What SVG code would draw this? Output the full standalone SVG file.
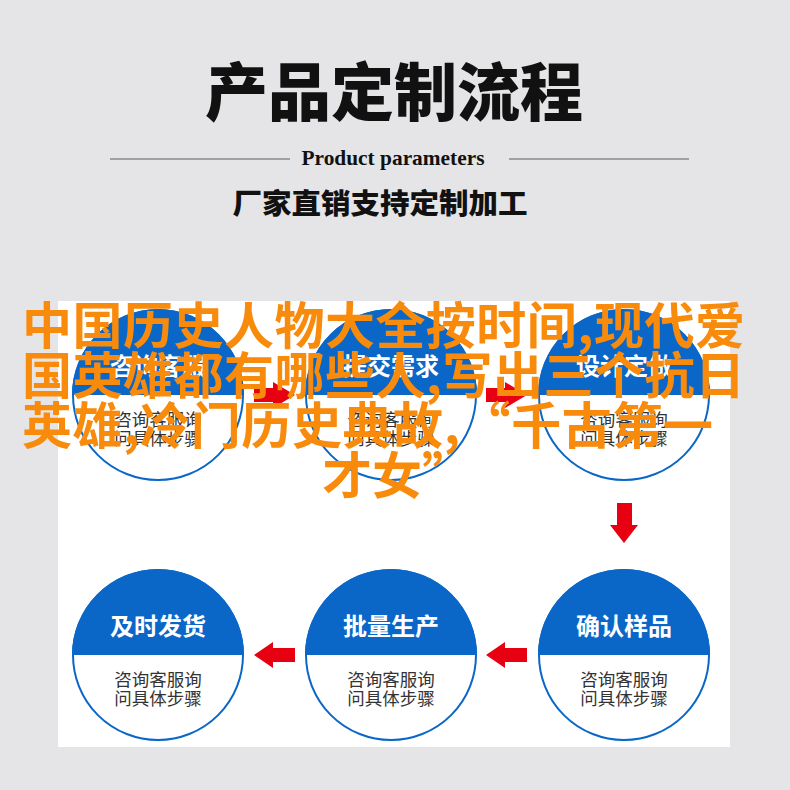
<svg xmlns="http://www.w3.org/2000/svg" width="790" height="790" viewBox="0 0 790 790">
<style>
.ttl{font-family:"Noto Sans CJK SC",sans-serif;font-weight:900;fill:#111}
.circ{fill:#fff;stroke:#0a67c8;stroke-width:2}
.half{fill:#0a67c8}
.head{font-family:"Noto Sans CJK SC",sans-serif;font-weight:700;font-size:24px;fill:#fff;text-anchor:middle}
.body{font-family:"Noto Sans CJK SC",sans-serif;font-weight:400;font-size:17.5px;fill:#333;text-anchor:middle}
.arr{fill:#e60012}
.ov{font-family:"Noto Sans CJK SC",sans-serif;font-weight:700;font-size:50px;fill:#f98b0c}
</style>
<rect width="790" height="790" fill="#e5e5e7"/>
<g id="header">
<text class="ttl" x="394" y="115" font-size="63" text-anchor="middle" textLength="378" lengthAdjust="spacingAndGlyphs">产品定制流程</text>
<line x1="110" y1="159" x2="290" y2="159" stroke="#8a8a8a" stroke-width="1.5"/>
<line x1="509" y1="159" x2="689" y2="159" stroke="#8a8a8a" stroke-width="1.5"/>
<text x="393" y="165" font-family="Liberation Serif,serif" font-weight="700" font-size="21" fill="#111" text-anchor="middle" textLength="183" lengthAdjust="spacingAndGlyphs">Product parameters</text>
<text class="ttl" x="380" y="214" font-size="28" text-anchor="middle" textLength="295" lengthAdjust="spacingAndGlyphs">厂家直销支持定制加工</text>
</g>
<rect id="panel" x="58" y="301" width="672" height="446" fill="#fff"/>
<defs>
<clipPath id="c1"><rect x="0" y="300" width="790" height="95"/></clipPath>
<clipPath id="c2"><rect x="0" y="560" width="790" height="95"/></clipPath>
</defs>
<g id="node1">
<circle class="circ" cx="158" cy="395" r="85"/>
<circle class="half" cx="158" cy="395" r="86" clip-path="url(#c1)"/>
<text class="head" x="158" y="375">咨询客服</text>
<text class="body" x="158" y="426">咨询客服询</text>
<text class="body" x="158" y="445">问具体步骤</text>
</g>
<g id="node2">
<circle class="circ" cx="391" cy="395" r="85"/>
<circle class="half" cx="391" cy="395" r="86" clip-path="url(#c1)"/>
<text class="head" x="391" y="375">提交需求</text>
<text class="body" x="391" y="426">咨询客服询</text>
<text class="body" x="391" y="445">问具体步骤</text>
</g>
<g id="node3">
<circle class="circ" cx="624" cy="395" r="85"/>
<circle class="half" cx="624" cy="395" r="86" clip-path="url(#c1)"/>
<text class="head" x="624" y="375">设计定做</text>
<text class="body" x="624" y="426">咨询客服询</text>
<text class="body" x="624" y="445">问具体步骤</text>
</g>
<g id="node4">
<circle class="circ" cx="624" cy="655" r="85"/>
<circle class="half" cx="624" cy="655" r="86" clip-path="url(#c2)"/>
<text class="head" x="624" y="635">确认样品</text>
<text class="body" x="624" y="686">咨询客服询</text>
<text class="body" x="624" y="705">问具体步骤</text>
</g>
<g id="node5">
<circle class="circ" cx="391" cy="655" r="85"/>
<circle class="half" cx="391" cy="655" r="86" clip-path="url(#c2)"/>
<text class="head" x="391" y="635">批量生产</text>
<text class="body" x="391" y="686">咨询客服询</text>
<text class="body" x="391" y="705">问具体步骤</text>
</g>
<g id="node6">
<circle class="circ" cx="158" cy="655" r="85"/>
<circle class="half" cx="158" cy="655" r="86" clip-path="url(#c2)"/>
<text class="head" x="158" y="635">及时发货</text>
<text class="body" x="158" y="686">咨询客服询</text>
<text class="body" x="158" y="705">问具体步骤</text>
</g>
<g id="connectors">
<path class="arr" d="M254,388H273V382L295,395L273,408V402H254Z"/>
<path class="arr" d="M486,388H505V382L527,395L505,408V402H486Z"/>
<path class="arr" d="M617,503H632V525H638L624,543L610,525H617Z"/>
<path class="arr" d="M527,648H505V642L486,655L505,668V662H527Z"/>
<path class="arr" d="M295,648H273V642L254,655L273,668V662H295Z"/>
</g>
<g id="overlay">
<text class="ov" x="22" y="344" textLength="723" lengthAdjust="spacing">中国历史人物大全按时间,现代爱</text>
<text class="ov" x="22" y="394" textLength="723" lengthAdjust="spacing">国英雄都有哪些人,写出三个抗日</text>
<text class="ov" x="22" y="444" textLength="691" lengthAdjust="spacing">英雄,冷门历史典故,“千古第一</text>
<text class="ov" x="322" y="494">才女”</text>
</g>
</svg>
